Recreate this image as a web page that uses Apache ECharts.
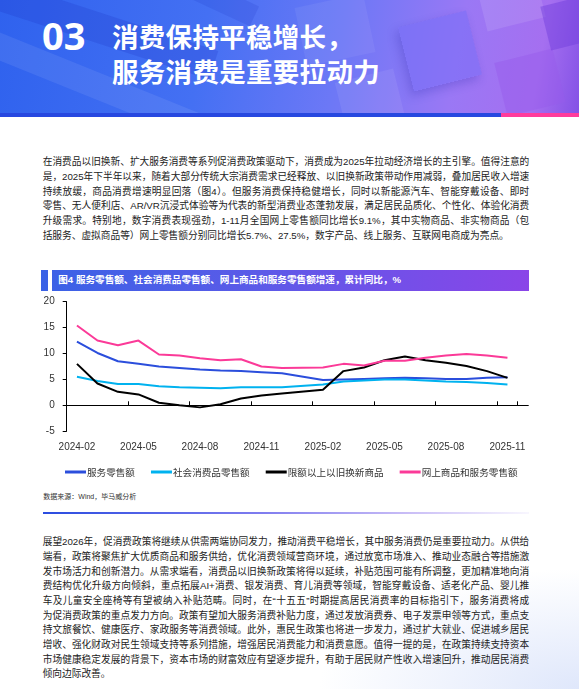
<!DOCTYPE html>
<html>
<head>
<meta charset="utf-8">
<script src="https://cdn.jsdelivr.net/npm/echarts@6/dist/echarts.min.js"></script>
<style>
  html, body { margin: 0; padding: 0; }
  body {
    width: 579px; height: 689px; overflow: hidden; position: relative;
    background: radial-gradient(ellipse 260px 120px at 100% 100%, #dfe7fb 0%, rgba(223,231,251,0) 100%), #fff;
    font-family: "Liberation Sans", "Noto Sans CJK SC", sans-serif;
    color: #222;
  }
  .head {
    position: absolute; left: 0; top: 0; width: 579px; height: 113px; overflow: hidden;
    background: linear-gradient(100deg, #2f62ee 0%, #4470f3 35%, #6c78f6 58%, #9a78f5 78%, #a56ff0 92%, #8452e6 100%);
  }
  .sq { position: absolute; }
  .bar-blue { position: absolute; left: 0; top: 112.7px; width: 501px; height: 4px; background: #2748e0; }
  .bar-pink { position: absolute; left: 501px; top: 112.7px; width: 78px; height: 4px; background: #ff3c9c; }
  .num {
    position: absolute; left: 42px; top: 16.4px; font: bold 38px/38px "Noto Sans", "Open Sans", sans-serif;
    color: #fff;
  }
  .ttl {
    position: absolute; left: 112px; top: 17.5px; font: bold 26.5px/35.5px "Noto Sans CJK SC", sans-serif;
    color: #fff; letter-spacing: 0.3px;
  }
  .txt { position: absolute; left: 42.7px; width: 486.6px; font-size: 9.7px; }
  .txt div { height: 14.7px; line-height: 14.7px; text-align: justify; text-align-last: justify; }
  .txt div.last { text-align-last: left; }
  .cap {
    position: absolute; left: 40.6px; top: 270px; width: 488.4px; height: 20.7px;
    background: linear-gradient(90deg, #3a62e6 0%, #5c5ae8 45%, #8a45e8 100%);
  }
  .cap i { position: absolute; left: 7.4px; top: 0; width: 3.7px; height: 20.7px; background: #fff; }
  .cap span {
    position: absolute; left: 17.7px; top: 0; line-height: 20.7px; font-weight: bold; font-size: 9.6px;
    color: #fff; font-family: "Liberation Sans", "Noto Sans CJK SC", sans-serif;
  }
  #chart { position: absolute; left: 0; top: 292px; width: 579px; height: 190px; }
  .src { position: absolute; left: 43.3px; top: 492.3px; font-size: 7px; line-height: 10px; color: #333; }
  .rule {
    position: absolute; left: 43px; top: 512.3px; width: 486px; height: 2px;
    background: linear-gradient(90deg, #2a4ce0 0%, #7f7cef 45%, #c9bdf6 75%, #f8f6fe 100%);
  }
</style>
</head>
<body>
<div class="head">
  <div class="sq" style="left:-40px;top:10px;width:260px;height:30px;background:rgba(20,40,190,0.18);transform:rotate(18deg);"></div>
  <div class="sq" style="left:-30px;top:70px;width:240px;height:26px;background:rgba(255,255,255,0.08);transform:rotate(22deg);"></div>
  <div class="sq" style="left:140px;top:-20px;width:120px;height:22px;background:rgba(20,40,190,0.14);transform:rotate(25deg);"></div>
  <div class="sq" style="left:300px;top:0px;width:70px;height:60px;background:rgba(255,255,255,0.06);transform:rotate(-12deg);"></div>
  <div class="sq" style="left:405px;top:18px;width:70px;height:66px;background:rgba(120,110,245,0.55);transform:rotate(-14deg);box-shadow:-4px 4px 10px rgba(40,40,170,0.25);"></div>
  <div class="sq" style="left:480px;top:-30px;width:60px;height:55px;background:rgba(255,255,255,0.10);transform:rotate(-14deg);"></div>
  <div class="sq" style="left:500px;top:55px;width:60px;height:55px;background:rgba(150,90,235,0.45);transform:rotate(-14deg);"></div>
  <div class="sq" style="left:545px;top:0px;width:50px;height:45px;background:rgba(110,60,220,0.45);transform:rotate(-14deg);"></div>
  <div class="sq" style="left:340px;top:75px;width:60px;height:50px;background:rgba(255,255,255,0.07);transform:rotate(-14deg);"></div>
  <div class="num">03</div>
  <div class="ttl">消费保持平稳增长，<br>服务消费是重要拉动力</div>
</div>
<div class="bar-blue"></div>
<div class="bar-pink"></div>

<div class="txt" style="top:155.3px;">
  <div>在消费品以旧换新、扩大服务消费等系列促消费政策驱动下，消费成为2025年拉动经济增长的主引擎。值得注意的</div>
  <div>是，2025年下半年以来，随着大部分传统大宗消费需求已经释放、以旧换新政策带动作用减弱，叠加居民收入增速</div>
  <div>持续放缓，商品消费增速明显回落（图4）。但服务消费保持稳健增长，同时以新能源汽车、智能穿戴设备、即时</div>
  <div>零售、无人便利店、AR/VR沉浸式体验等为代表的新型消费业态蓬勃发展，满足居民品质化、个性化、体验化消费</div>
  <div>升级需求。特别地，数字消费表现强劲，1-11月全国网上零售额同比增长9.1%，其中实物商品、非实物商品（包</div>
  <div class="last">括服务、虚拟商品等）网上零售额分别同比增长5.7%、27.5%，数字产品、线上服务、互联网电商成为亮点。</div>
</div>

<div class="cap"><i></i><span>图4 服务零售额、社会消费品零售额、网上商品和服务零售额增速，累计同比，%</span></div>

<div id="chart"></div>

<div class="src">数据来源：Wind，毕马威分析</div>
<div class="rule"></div>

<div class="txt" style="top:535.3px;">
  <div>展望2026年，促消费政策将继续从供需两端协同发力，推动消费平稳增长，其中服务消费仍是重要拉动力。从供给</div>
  <div>端看，政策将聚焦扩大优质商品和服务供给，优化消费领域营商环境，通过放宽市场准入、推动业态融合等措施激</div>
  <div>发市场活力和创新潜力。从需求端看，消费品以旧换新政策将得以延续，补贴范围可能有所调整，更加精准地向消</div>
  <div>费结构优化升级方向倾斜，重点拓展AI+消费、银发消费、育儿消费等领域，智能穿戴设备、适老化产品、婴儿推</div>
  <div>车及儿童安全座椅等有望被纳入补贴范畴。同时，在“十五五”时期提高居民消费率的目标指引下，服务消费将成</div>
  <div>为促消费政策的重点发力方向。政策有望加大服务消费补贴力度，通过发放消费券、电子发票申领等方式，重点支</div>
  <div>持文旅餐饮、健康医疗、家政服务等消费领域。此外，惠民生政策也将进一步发力，通过扩大就业、促进城乡居民</div>
  <div>增收、强化财政对民生领域支持等系列措施，增强居民消费能力和消费意愿。值得一提的是，在政策持续支持资本</div>
  <div>市场健康稳定发展的背景下，资本市场的财富效应有望逐步提升，有助于居民财产性收入增速回升，推动居民消费</div>
  <div class="last">倾向边际改善。</div>
</div>

<script>
// monthly categories; Jan 2025 has no separate release (Jan-Feb combined)
let months = ['2024-02', '2024-03', '2024-04', '2024-05', '2024-06', '2024-07', '2024-08', '2024-09',
    '2024-10', '2024-11', '2024-12', '2025-01', '2025-02', '2025-03', '2025-04', '2025-05',
    '2025-06', '2025-07', '2025-08', '2025-09', '2025-10', '2025-11'];
let serviceRetail = [12.3, 10.1, 8.5, 8.0, 7.5, 7.2, 6.9, 6.7, 6.6, 6.4, 6.2, null,
    4.9, 5.0, 5.1, 5.2, 5.3, 5.2, 5.1, 5.1, 5.3, 5.4];
let socialRetail = [5.5, 4.7, 4.1, 4.1, 3.7, 3.5, 3.4, 3.3, 3.5, 3.5, 3.5, null,
    4.0, 4.6, 4.8, 5.0, 5.0, 4.8, 4.6, 4.5, 4.3, 4.0];
let tradeInGoods = [8.0, 4.2, 2.6, 2.1, 0.5, 0.0, -0.4, 0.2, 1.3, 1.9, 2.3, null,
    3.0, 6.6, 7.3, 8.7, 9.4, 8.7, 8.2, 7.6, 6.6, 5.3];
let onlineRetail = [15.4, 12.5, 11.6, 12.5, 9.8, 9.6, 9.1, 8.7, 8.9, 7.5, 7.2, null,
    7.3, 8.0, 7.7, 8.6, 8.6, 9.2, 9.6, 9.9, 9.6, 9.2];
let seriesNames = ['服务零售额', '社会消费品零售额', '限额以上以旧换新商品', '网上商品和服务零售额'];
let seriesColors = ['#2b4edc', '#00b2ef', '#000000', '#fb3a98'];
let yMin = -5, yMax = 20, yStep = 5;

let myChart = echarts.init(document.getElementById('chart'));
let allData = [serviceRetail, socialRetail, tradeInGoods, onlineRetail];
let axisFont = { color: '#333', fontSize: 10, fontFamily: 'Liberation Sans' };

let option = {
    animation: false,
    grid: [
        { left: 66.7, top: 9.7, width: 451, height: 129.5 },
        { left: 66.7, top: 9.7, width: 461.6, height: 129.5 }
    ],
    legend: {
        left: 60,
        top: 168,
        icon: 'rect',
        itemWidth: 21,
        itemHeight: 3,
        itemGap: 16,
        textStyle: { color: '#333', fontSize: 9.6, fontFamily: 'Noto Sans CJK SC', lineHeight: 14, padding: [0, 0, 0, -4] },
        data: seriesNames
    },
    xAxis: [
        {
            // labels along the bottom
            type: 'category', gridIndex: 0, data: months, boundaryGap: true, position: 'bottom',
            axisLine: { show: false, onZero: false },
            axisTick: { show: false },
            axisLabel: Object.assign({ interval: 2, margin: 11 }, axisFont)
        },
        {
            // ticks on the zero line
            type: 'category', gridIndex: 0, data: months, boundaryGap: true,
            axisLine: { show: false, onZero: true },
            axisTick: { show: true, interval: 2, length: 4, inside: false, lineStyle: { color: '#000', width: 1 } },
            axisLabel: { show: false }
        },
        {
            // zero line, runs a little past the last month
            type: 'value', gridIndex: 1, min: 0, max: 1,
            axisLine: { show: true, onZero: true, lineStyle: { color: '#000', width: 1 } },
            axisTick: { show: false }, axisLabel: { show: false }, splitLine: { show: false }
        }
    ],
    yAxis: [
        {
            type: 'value', gridIndex: 0, min: yMin, max: yMax, interval: yStep,
            axisLine: { show: true, lineStyle: { color: '#000', width: 1 } },
            axisTick: { show: true, length: 4, lineStyle: { color: '#000' } },
            axisLabel: Object.assign({ margin: 12 }, axisFont),
            splitLine: { show: false }
        },
        {
            type: 'value', gridIndex: 1, min: yMin, max: yMax, interval: yStep,
            axisLine: { show: false }, axisTick: { show: false }, axisLabel: { show: false },
            splitLine: { show: false }
        }
    ],
    series: seriesNames.map(function (name, i) {
        return {
            name: name,
            type: 'line',
            xAxisIndex: 0,
            yAxisIndex: 0,
            data: allData[i],
            connectNulls: true,
            showSymbol: false,
            symbol: 'none',
            color: seriesColors[i],
            lineStyle: { width: 2, color: seriesColors[i] }
        };
    })
};
myChart.setOption(option);
</script>
</body>
</html>
